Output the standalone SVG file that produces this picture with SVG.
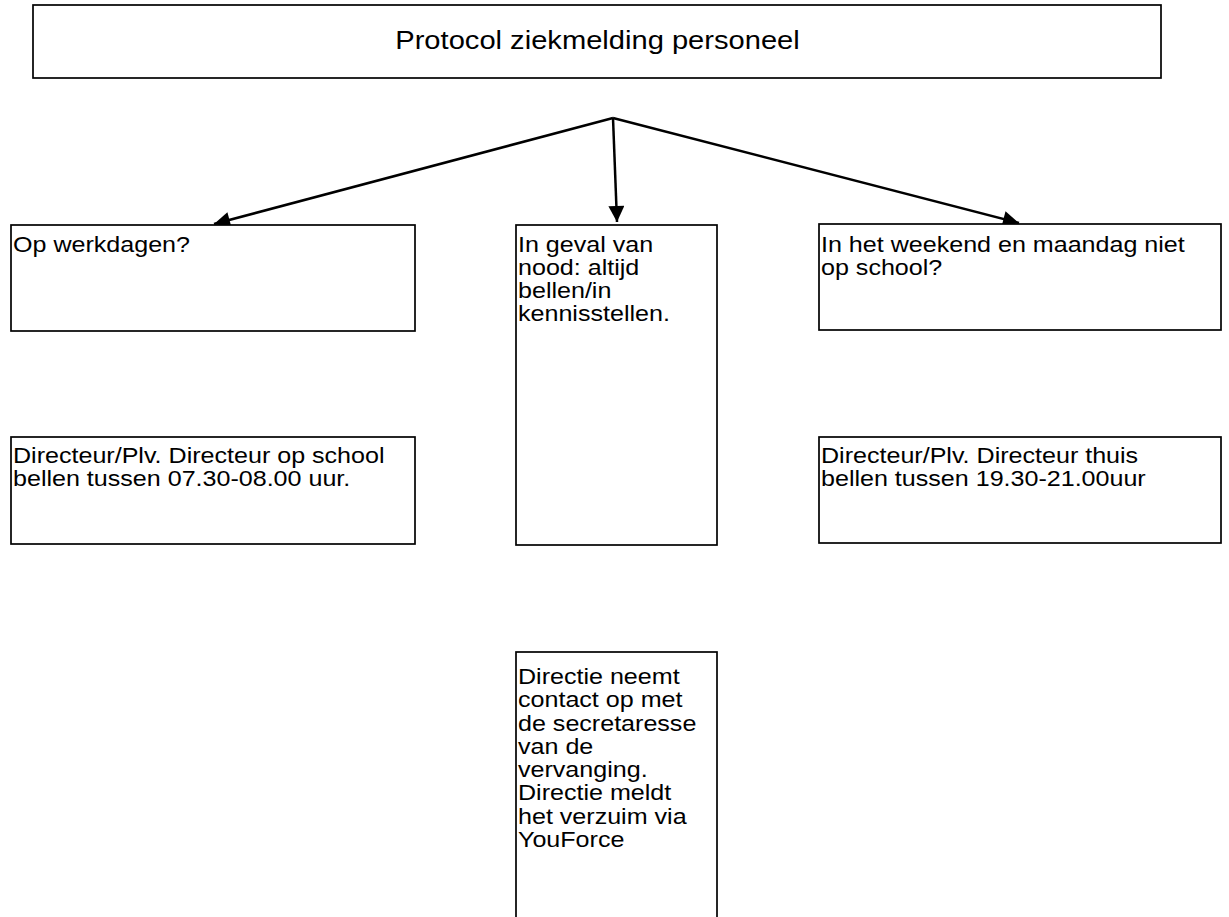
<svg xmlns="http://www.w3.org/2000/svg" width="1229" height="917" viewBox="0 0 1229 917">
<style>
.box{fill:#fff;stroke:#000;stroke-width:1.7}
.t{font-family:"Liberation Sans",Arial,sans-serif;font-size:22px;fill:#000}
.title{font-family:"Liberation Sans",Arial,sans-serif;font-size:25px;fill:#000}
.con{stroke:#000;stroke-width:2.5;fill:none}
</style>
<defs>
<marker id="ah" viewBox="0 0 10 10" refX="10" refY="5" markerWidth="8" markerHeight="6.4" markerUnits="strokeWidth" orient="auto">
<path d="M0,0 L10,5 L0,10 z" fill="#000"/>
</marker>
</defs>
<rect width="1229" height="917" fill="#fff"/>
<g id="title">
<rect class="box" x="33" y="5" width="1128" height="73"/>
<text class="title" transform="translate(597.5,49) scale(1.165,1)" text-anchor="middle">Protocol ziekmelding personeel</text>
</g>
<g id="connectors">
<line class="con" x1="613" y1="118" x2="214" y2="224" marker-end="url(#ah)"/>
<line class="con" x1="613" y1="118" x2="617" y2="222" marker-end="url(#ah)"/>
<line class="con" x1="613" y1="118" x2="1019" y2="223" marker-end="url(#ah)"/>
</g>
<g id="werkdagen">
<rect class="box" x="11" y="225" width="404" height="106"/>
<text class="t" transform="translate(13,252) scale(1.14,1)">Op werkdagen?</text>
</g>
<g id="nood">
<rect class="box" x="516" y="225" width="201" height="320"/>
<text class="t" transform="translate(518,252) scale(1.14,1)"><tspan x="0" y="0">In geval van</tspan><tspan x="0" y="23">nood: altijd</tspan><tspan x="0" y="46">bellen/in</tspan><tspan x="0" y="69">kennisstellen.</tspan></text>
</g>
<g id="weekend">
<rect class="box" x="819" y="224" width="402" height="106"/>
<text class="t" transform="translate(821,252) scale(1.14,1)"><tspan x="0" y="0">In het weekend en maandag niet</tspan><tspan x="0" y="23">op school?</tspan></text>
</g>
<g id="directeur-school">
<rect class="box" x="11" y="437" width="404" height="107"/>
<text class="t" transform="translate(13,463) scale(1.14,1)"><tspan x="0" y="0">Directeur/Plv. Directeur op school</tspan><tspan x="0" y="23">bellen tussen 07.30-08.00 uur.</tspan></text>
</g>
<g id="directeur-thuis">
<rect class="box" x="819" y="437" width="402" height="106"/>
<text class="t" transform="translate(821,463) scale(1.14,1)"><tspan x="0" y="0">Directeur/Plv. Directeur thuis</tspan><tspan x="0" y="23">bellen tussen 19.30-21.00uur</tspan></text>
</g>
<g id="directie">
<rect class="box" x="516" y="652" width="201" height="300"/>
<text class="t" transform="translate(518,684) scale(1.14,1)"><tspan x="0" y="0">Directie neemt</tspan><tspan x="0" y="23.3">contact op met</tspan><tspan x="0" y="46.6">de secretaresse</tspan><tspan x="0" y="69.9">van de</tspan><tspan x="0" y="93.2">vervanging.</tspan><tspan x="0" y="116.5">Directie meldt</tspan><tspan x="0" y="139.8">het verzuim via</tspan><tspan x="0" y="163.1">YouForce</tspan></text>
</g>
</svg>
